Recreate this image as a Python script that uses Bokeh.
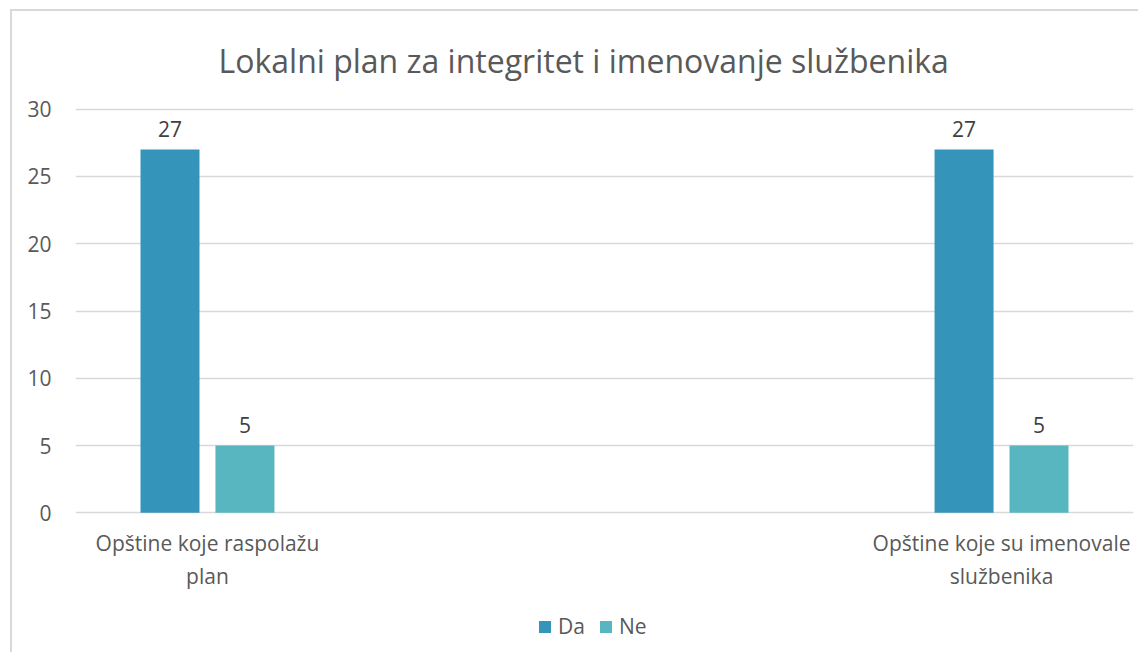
from bokeh.plotting import figure
from bokeh.layouts import column
from bokeh.models import ColumnDataSource, Range1d, LabelSet, Legend, LegendItem, FixedTicker
from bokeh.transform import dodge
from bokeh.core.properties import value
from bokeh.embed import file_html
from bokeh.resources import INLINE

# ---- data ----
categories = ["Opštine koje raspolažu\nplan", "Opštine koje su imenovale\nslužbenika"]
series_names = ["Da", "Ne"]
da_values = [27, 27]
ne_values = [5, 5]
y_ticks = [0, 5, 10, 15, 20, 25, 30]
title_text = "Lokalni plan za integritet i imenovanje službenika"

FONT = "Open Sans"
DA_COLOR = "#3494BA"
NE_COLOR = "#58B6C0"
GRID = "#D9D9D9"
TXT = "#595959"

pos = list(range(len(categories)))
src = ColumnDataSource(dict(
    x=pos, da=da_values, ne=ne_values,
    da_lbl=[str(v) for v in da_values], ne_lbl=[str(v) for v in ne_values],
))

W, H = 1126, 589
TOP, FRAME_H = 95, 409
p = figure(width=W, height=H, output_backend="svg", toolbar_location=None,
           x_range=Range1d(-0.1662, 1.1662), y_range=Range1d(-0.2, 30.2),
           min_border_left=63, min_border_right=5, min_border_top=TOP,
           min_border_bottom=H - TOP - FRAME_H)
p.outline_line_color = None
p.background_fill_color = "white"
p.border_fill_color = "white"

off = 0.0472
bw = 0.0743
r_da = p.vbar(x=dodge("x", -off), top="da", width=bw, bottom=0, source=src,
              fill_color=DA_COLOR, line_color=None)
r_ne = p.vbar(x=dodge("x", off), top="ne", width=bw, bottom=0, source=src,
              fill_color=NE_COLOR, line_color=None)

for fld, lbl, o in [("da", "da_lbl", -off), ("ne", "ne_lbl", off)]:
    ls = LabelSet(x=dodge("x", o), y=fld, text=lbl, source=src, text_align="center",
                  text_baseline="bottom", y_offset=13, text_font=value(FONT),
                  text_font_size="21px", text_color="#404040")
    p.add_layout(ls)

# title
p.title.text = title_text
p.title.align = "left"
p.title.offset = 143
p.title.text_font = FONT
p.title.text_font_size = "32px"
p.title.text_font_style = "normal"
p.title.text_color = TXT
p.title.standoff = 50

# axes
p.xaxis.ticker = FixedTicker(ticks=pos)
p.xaxis.major_label_overrides = {i: c for i, c in enumerate(categories)}
p.yaxis.ticker = FixedTicker(ticks=y_ticks)
for ax in (p.xaxis[0], p.yaxis[0]):
    ax.axis_line_color = None
    ax.major_tick_line_color = None
    ax.minor_tick_line_color = None
    ax.major_label_text_font = FONT
    ax.major_label_text_font_size = "21px"
    ax.major_label_text_color = TXT
p.xaxis.major_label_standoff = 7
p.yaxis.major_label_standoff = 18

p.xgrid.grid_line_color = None
p.ygrid.grid_line_color = GRID
p.ygrid.grid_line_width = 1.5

# legend strip below the chart (its keys are the same series, kept out of view)
lg = figure(width=W, height=52, output_backend="svg", toolbar_location=None,
            x_range=Range1d(0, 1), y_range=Range1d(100, 101),
            min_border_left=0, min_border_right=0, min_border_top=0, min_border_bottom=0)
lg.axis.visible = False
lg.grid.visible = False
lg.outline_line_color = None
lg.border_fill_color = "white"
lg.background_fill_color = "white"
k_da = lg.vbar(x=pos, top=da_values, bottom=0, width=0.1, fill_color=DA_COLOR, line_color=None)
k_ne = lg.vbar(x=pos, top=ne_values, bottom=0, width=0.1, fill_color=NE_COLOR, line_color=None)
legend = Legend(items=[LegendItem(label=series_names[0], renderers=[k_da]),
                       LegendItem(label=series_names[1], renderers=[k_ne])],
                orientation="horizontal", location=(462, 12))
legend.border_line_color = None
legend.background_fill_alpha = 0
legend.label_text_font = FONT
legend.label_text_font_size = "21px"
legend.label_text_color = TXT
legend.glyph_width = 15
legend.glyph_height = 15
legend.label_standoff = 6
legend.spacing = 13
legend.padding = 0
legend.margin = 0
lg.add_layout(legend)

layout = column(p, lg, spacing=0, margin=(9, 0, 0, 10))
layout.styles = {"border-left": "2px solid #D9D9D9", "border-top": "2px solid #D9D9D9",
                 "border-right": "0px none", "border-bottom": "0px none"}
open("out.html", "w").write(file_html(layout, INLINE))
